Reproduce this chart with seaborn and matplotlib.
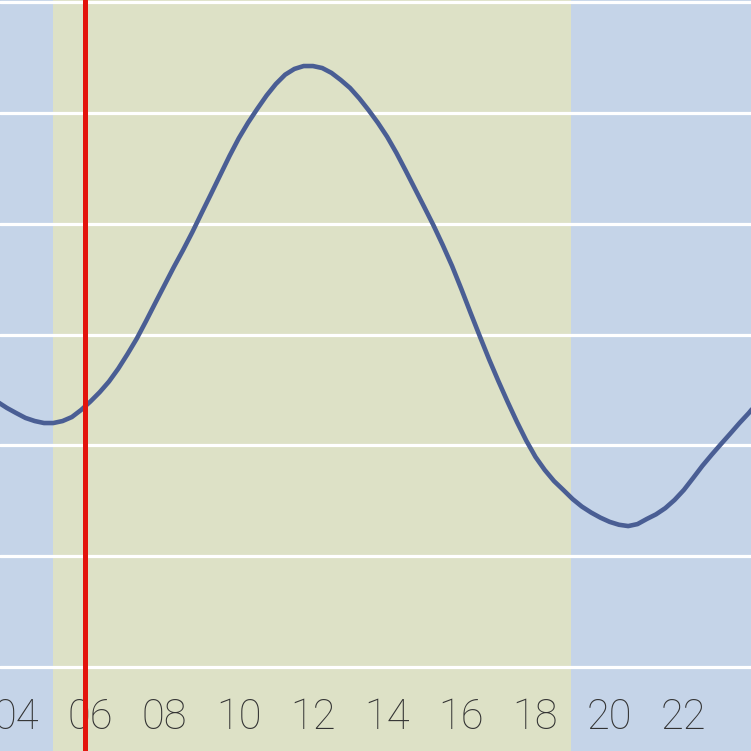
import matplotlib
matplotlib.use("Agg")
import matplotlib.pyplot as plt
import seaborn as sns
import pandas as pd

# tide-like curve, hours vs height (cm), read every quarter hour
hours = [3.5, 3.75, 4.0, 4.25, 4.5, 4.75, 5.0, 5.25, 5.5, 5.75,
         6.0, 6.25, 6.5, 6.75, 7.0, 7.25, 7.5, 7.75, 8.0, 8.25,
         8.5, 8.75, 9.0, 9.25, 9.5, 9.75, 10.0, 10.25, 10.5, 10.75,
         11.0, 11.25, 11.5, 11.75, 12.0, 12.25, 12.5, 12.75, 13.0, 13.25,
         13.5, 13.75, 14.0, 14.25, 14.5, 14.75, 15.0, 15.25, 15.5, 15.75,
         16.0, 16.25, 16.5, 16.75, 17.0, 17.25, 17.5, 17.75, 18.0, 18.25,
         18.5, 18.75, 19.0, 19.25, 19.5, 19.75, 20.0, 20.25, 20.5, 20.75,
         21.0, 21.25, 21.5, 21.75, 22.0, 22.25, 22.5, 22.75, 23.0, 23.25,
         23.5, 23.75, 24.0]
heights = [119.6, 116.9, 114.6, 112.4, 111.0, 110.1, 110.1, 111.0, 112.8, 116.0,
           119.8, 124.0, 128.8, 134.6, 141.2, 148.2, 156.1, 164.3, 172.4, 180.5,
           188.2, 196.3, 204.9, 213.4, 222.0, 230.6, 238.6, 245.6, 251.9, 257.9,
           263.1, 267.3, 269.9, 271.2, 271.2, 270.3, 268.1, 264.9, 261.3, 256.6,
           251.3, 245.6, 239.3, 232.0, 224.0, 215.8, 207.6, 199.3, 190.4, 181.0,
           170.6, 159.8, 149.2, 138.8, 129.0, 119.6, 110.6, 102.2, 94.8, 88.9,
           83.9, 79.9, 75.8, 72.4, 69.7, 67.4, 65.5, 64.2, 63.6, 64.5,
           66.8, 68.9, 71.7, 75.4, 79.9, 85.3, 90.8, 95.8, 100.6, 105.3,
           110.1, 114.6, 119.6]

tick_hours = [4, 6, 8, 10, 12, 14, 16, 18, 20, 22]
tick_labels = ["04", "06", "08", "10", "12", "14", "16", "18", "20", "22"]
grid_levels = [0, 50, 100, 150, 200, 250, 300]

sunrise = 5.0
sunset = 18.95
now = 5.85
x_min, x_max = 3.563, 23.81
y_min, y_max = -37.9, 301.0

df = pd.DataFrame({"hour": hours, "height": heights})

sns.set_theme(style="white")
plt.rcParams["font.family"] = ["Roboto", "DejaVu Sans"]

fig = plt.figure(figsize=(7.51, 7.51), dpi=100)
ax = fig.add_axes([0, 0, 1, 1])

night = "#c5d4e8"
day = "#dde1c6"
ax.axvspan(x_min, sunrise, color=night, zorder=0, lw=0)
ax.axvspan(sunrise, sunset, color=day, zorder=0, lw=0)
ax.axvspan(sunset, x_max, color=night, zorder=0, lw=0)

sns.lineplot(data=df, x="hour", y="height", ax=ax, color="#4a5e94",
             linewidth=3.3, zorder=3)
ax.axvline(now, color="#e3140c", linewidth=3.6, zorder=10)

ax.set_xlim(x_min, x_max)
ax.set_ylim(y_min, y_max)
ax.set_yticks(grid_levels)
ax.set_yticklabels([])
ax.set_xticks(tick_hours)
ax.set_xticklabels(tick_labels)
ax.set_axisbelow(True)
ax.grid(axis="y", color="white", linewidth=2.3)
ax.grid(axis="x", visible=False)
ax.tick_params(axis="x", length=0, pad=-39, labelsize=30, labelcolor="#333333")
ax.tick_params(axis="y", length=0)
for lab in ax.get_xticklabels():
    lab.set_fontweight("light")
ax.set_xlabel("")
ax.set_ylabel("")
for s in ax.spines.values():
    s.set_visible(False)

fig.savefig("out.png", dpi=100)
